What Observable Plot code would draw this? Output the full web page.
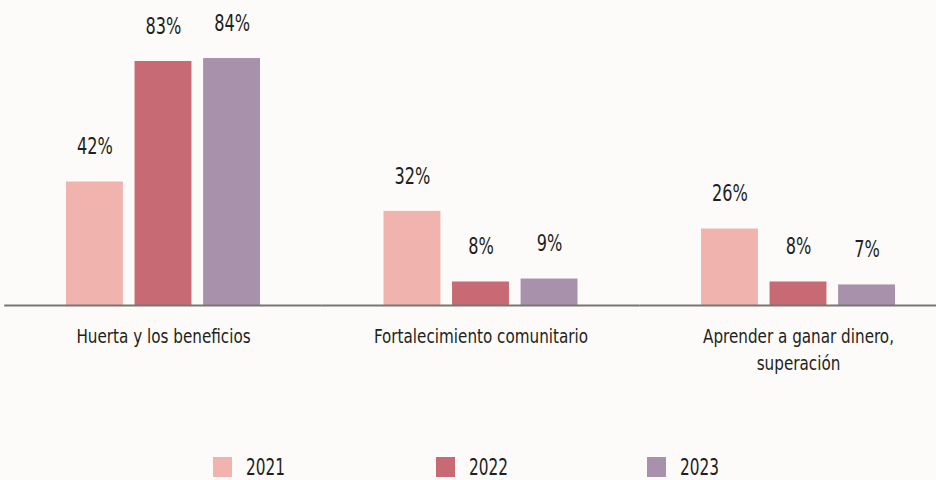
<!DOCTYPE html>
<html>
<head>
<meta charset="utf-8">
<script src="https://cdn.jsdelivr.net/npm/d3@7"></script>
<script src="https://cdn.jsdelivr.net/npm/@observablehq/plot@0.6"></script>
<style>
  html, body { margin: 0; padding: 0; background: #fcfbf9; overflow: hidden; }
  body { width: 936px; height: 480px; position: relative;
         font-family: "DejaVu Sans Condensed", "Liberation Sans Narrow", sans-serif; color: #231f20; }
  #chart svg { display: block; background: transparent; overflow: visible; }
  #legend { position: absolute; left: 0; top: 420px; width: 936px; height: 60px; }
  .item { position: absolute; top: 37px; display: flex; align-items: center; font-size: 23px; line-height: 20px; }
  .sw { width: 19px; height: 20px; margin-right: 14px; }
  .lbl { display: inline-block; transform: scaleX(0.74); transform-origin: left center; }
</style>
</head>
<body>
<div id="chart"></div>
<div id="legend"></div>
<script>
const groups = ["Huerta y los beneficios", "Fortalecimiento comunitario", "Aprender a ganar dinero, superación"];
const groupLabels = ["Huerta y los beneficios", "Fortalecimiento comunitario", "Aprender a ganar dinero,\nsuperación"];
const years = ["2021", "2022", "2023"];
const v2021 = [42, 32, 26];
const v2022 = [83, 8, 8];
const v2023 = [84, 9, 7];
const colors = ["#f0b3ae", "#c76a73", "#a892ab"];

const series = [v2021, v2022, v2023];
const data = [];
groups.forEach((g, i) => years.forEach((y, j) => data.push({group: g, year: y, value: series[j][i]})));

const font = '"DejaVu Sans Condensed", "Liberation Sans Narrow", sans-serif';

const chart = Plot.plot({
  width: 936,
  height: 420,
  marginTop: 11,
  marginBottom: 115,
  marginLeft: 0,
  marginRight: 0,
  style: {fontFamily: font, color: "#231f20", background: "transparent"},
  fx: {domain: groups, range: [4.25, 956.75], paddingInner: 0, paddingOuter: 0, round: false, label: null},
  x: {domain: years, range: [61.75, 255.75], paddingInner: 0.17, paddingOuter: 0, round: false, axis: null},
  y: {domain: [0, 100], axis: null},
  color: {domain: years, range: colors},
  marks: [
    Plot.barY(data, {fx: "group", x: "year", y: "value", fill: "year"}),
    Plot.ruleY([0], {stroke: "#767676", strokeWidth: 2}),
    Plot.text(data, {fx: "group", x: "year", y: "value", text: d => d.value + "%", dy: -35, lineAnchor: "middle", fontSize: 23, fill: "#231f20"}),
    Plot.axisFx({anchor: "bottom", tickSize: 0, tickPadding: 18, fontSize: 19, lineHeight: 1.42, tickFormat: d => groupLabels[groups.indexOf(d)], label: null})
  ]
});
document.getElementById("chart").appendChild(chart);

// narrow the text to mimic the condensed face of the original
function squeeze(sel, k) {
  chart.querySelectorAll(sel).forEach(t => {
    const tr = t.getAttribute("transform") || "";
    t.setAttribute("transform", tr + ` scale(${k},1)`);
  });
}
squeeze('g[aria-label="text"] text', 0.78);
squeeze('g[aria-label="fx-axis tick label"] text', 0.89);

const legendPos = [213, 436, 647];
const legend = document.getElementById("legend");
years.forEach((y, i) => {
  const it = document.createElement("div");
  it.className = "item";
  it.style.left = legendPos[i] + "px";
  const sw = document.createElement("div");
  sw.className = "sw";
  sw.style.background = colors[i];
  const t = document.createElement("span");
  t.className = "lbl";
  t.textContent = y;
  it.appendChild(sw); it.appendChild(t);
  legend.appendChild(it);
});
</script>
</body>
</html>
